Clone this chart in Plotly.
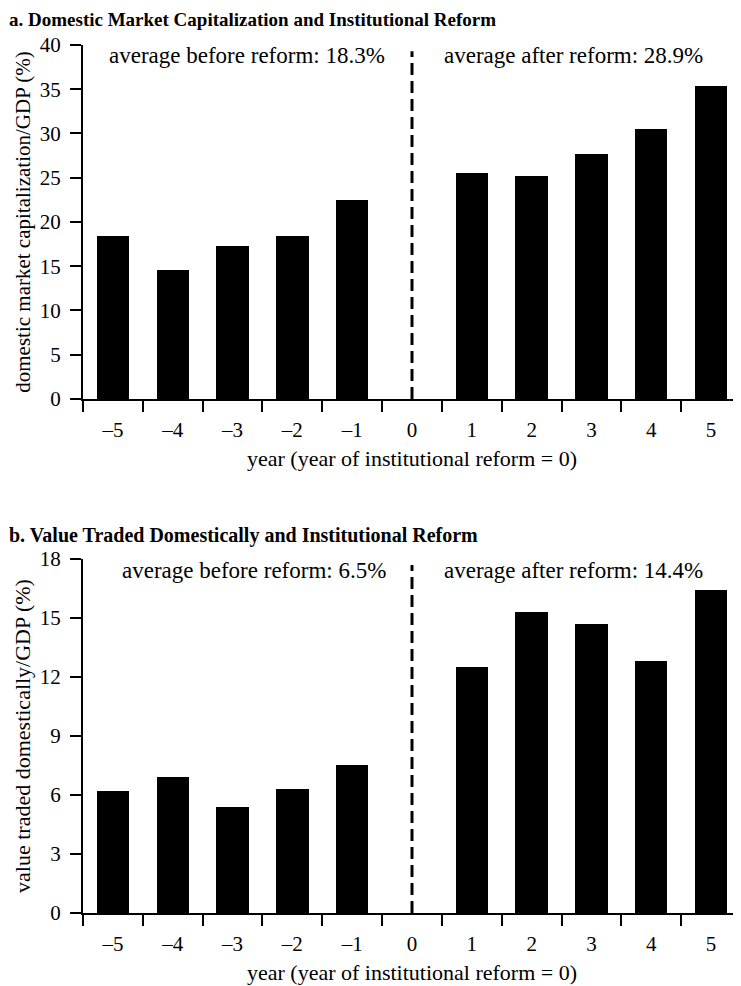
import plotly.graph_objects as go
from plotly.subplots import make_subplots

years = ["–5", "–4", "–3", "–2", "–1", "0", "1", "2", "3", "4", "5"]

# panel a: domestic market capitalization / GDP (%)
mcap = [18.4, 14.6, 17.3, 18.4, 22.5, None, 25.5, 25.2, 27.7, 30.5, 35.4]
# panel b: value traded domestically / GDP (%)
traded = [6.2, 6.9, 5.4, 6.3, 7.5, None, 12.5, 15.3, 14.7, 12.8, 16.4]

avg_text_a = ["average before reform: 18.3%", "average after reform: 28.9%"]
avg_text_b = ["average before reform: 6.5%", "average after reform: 14.4%"]

FONT = "Liberation Serif"
TICK = 21
LABEL = 22

fig = make_subplots(rows=2, cols=1)

fig.add_trace(go.Bar(x=years, y=mcap, width=0.54, marker_color="black",
                     marker_line_width=0), row=1, col=1)
fig.add_trace(go.Bar(x=years, y=traded, width=0.54, marker_color="black",
                     marker_line_width=0), row=2, col=1)

# dashed reform line at year 0
fig.add_trace(go.Scatter(x=["0", "0"], y=[0, 39.3], mode="lines",
                         line=dict(color="black", width=3, dash="12px,6px")),
              row=1, col=1)
fig.add_trace(go.Scatter(x=["0", "0"], y=[0, 17.7], mode="lines",
                         line=dict(color="black", width=3, dash="12px,6px")),
              row=2, col=1)

xcommon = dict(type="category", categoryorder="array", categoryarray=years,
               range=[-0.5, 10.5], tickson="boundaries", ticks="outside",
               ticklen=11, tickwidth=1.5, tickcolor="black", showline=True,
               linecolor="black", linewidth=2, showgrid=False, zeroline=False,
               ticklabelstandoff=11,
               tickfont=dict(family=FONT, size=TICK, color="black"),
               title=dict(text="year (year of institutional reform = 0)",
                          font=dict(family=FONT, size=LABEL, color="black"),
                          standoff=9))
ycommon = dict(ticks="outside", ticklen=11, tickwidth=1.5, tickcolor="black",
               showline=True, linecolor="black", linewidth=2, showgrid=False,
               zeroline=False, ticklabelstandoff=5,
               tickfont=dict(family=FONT, size=TICK, color="black"))

fig.update_xaxes(**xcommon)
fig.update_yaxes(**ycommon)

fig.update_yaxes(range=[0, 40], tickvals=[0, 5, 10, 15, 20, 25, 30, 35, 40],
                 domain=[0.5922, 1.0],
                 title=dict(text="domestic market capitalization/GDP (%)",
                            font=dict(family=FONT, size=21, color="black"),
                            standoff=3), row=1, col=1)
fig.update_yaxes(range=[0, 18], tickvals=[0, 3, 6, 9, 12, 15, 18],
                 domain=[0.0, 0.4078],
                 title=dict(text="value traded domestically/GDP (%)",
                            font=dict(family=FONT, size=22, color="black"),
                            standoff=3), row=2, col=1)
fig.update_xaxes(domain=[0, 1])

afont = dict(family=FONT, size=23, color="black")
ann = [
    dict(x=-0.1, y=0.969, xref="x", yref="y domain", text=avg_text_a[0],
         xanchor="left", yanchor="middle", showarrow=False, font=afont),
    dict(x=5.5, y=0.969, xref="x", yref="y domain", text=avg_text_a[1],
         xanchor="left", yanchor="middle", showarrow=False, font=afont),
    dict(x=0.12, y=0.969, xref="x2", yref="y2 domain", text=avg_text_b[0],
         xanchor="left", yanchor="middle", showarrow=False, font=afont),
    dict(x=5.5, y=0.969, xref="x2", yref="y2 domain", text=avg_text_b[1],
         xanchor="left", yanchor="middle", showarrow=False, font=afont),
    # panel titles
    dict(x=0, y=1.0, xref="paper", yref="paper", xshift=-76, yshift=26,
         text="<b>a. Domestic Market Capitalization and Institutional Reform</b>",
         xanchor="left", yanchor="middle", showarrow=False,
         font=dict(family=FONT, size=19, color="black")),
    dict(x=0, y=0.4078, xref="paper", yref="paper", xshift=-76, yshift=24,
         text="<b>b. Value Traded Domestically and Institutional Reform</b>",
         xanchor="left", yanchor="middle", showarrow=False,
         font=dict(family=FONT, size=20, color="black")),
]

# page body has an 8px margin, so the figure is offset by 8px
fig.update_layout(width=733, height=978, showlegend=False,
                  margin=dict(l=75, r=0, t=37, b=73),
                  plot_bgcolor="white", paper_bgcolor="white",
                  annotations=ann, bargap=0)

fig.write_html("out.html")
